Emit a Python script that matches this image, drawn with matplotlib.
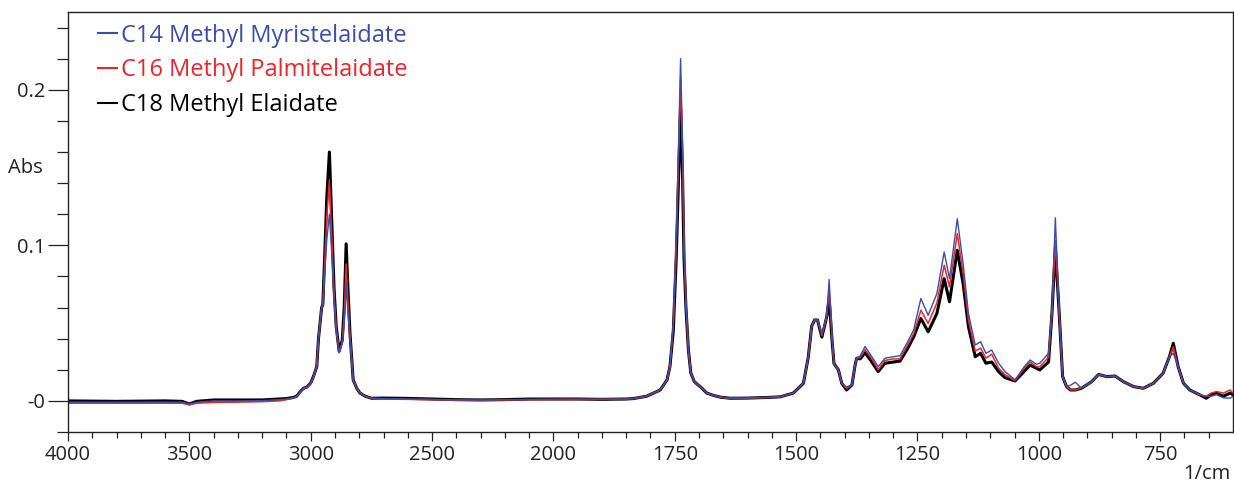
import numpy as np
import matplotlib
matplotlib.use("Agg")
import matplotlib.pyplot as plt

plt.rcParams['font.family'] = ['Open Sans', 'DejaVu Sans']

# wavenumber (1/cm), descending
wavenumber = [
    4000, 3800, 3600, 3530, 3500, 3470, 3400, 3300, 3200, 3130,
    3100, 3072, 3058, 3040, 3030, 3015, 3000, 2988, 2975, 2968,
    2955, 2950, 2942, 2934, 2923, 2913, 2904, 2895, 2883, 2870,
    2862, 2854, 2846, 2838, 2825, 2810, 2797, 2775, 2750, 2700,
    2600, 2500, 2400, 2300, 2200, 2100, 2000, 1950, 1900, 1850,
    1835, 1808, 1780, 1766, 1760, 1753, 1747, 1742, 1738, 1734,
    1731, 1727, 1722, 1717, 1710, 1703, 1697, 1684, 1670, 1656,
    1636, 1600, 1560, 1533, 1506, 1485, 1475, 1468, 1462, 1456,
    1447, 1437, 1432, 1426, 1422, 1413, 1406, 1396, 1385, 1378,
    1375, 1368, 1358, 1344, 1331, 1317, 1300, 1286, 1272, 1258,
    1243, 1228, 1210, 1195, 1184, 1168, 1156, 1145, 1131, 1120,
    1109, 1097, 1083, 1070, 1049, 1030, 1018, 1005, 998, 980,
    973, 966, 958, 951, 943, 935, 925, 912, 891, 877,
    860, 843, 826, 805, 785, 764, 744, 731, 723, 713,
    702, 689, 668, 655, 645, 634, 620, 606, 600,
]

c18_elaidate = [
    0.0000, -0.0003, 0.0000, -0.0003, -0.0020, -0.0003, 0.0006, 0.0006, 0.0006, 0.0012,
    0.0015, 0.0022, 0.0030, 0.0065, 0.0080, 0.0090, 0.0115, 0.016, 0.022, 0.040,
    0.060, 0.062, 0.095, 0.130, 0.160, 0.115, 0.073, 0.048, 0.032, 0.039,
    0.060, 0.101, 0.070, 0.043, 0.0135, 0.008, 0.005, 0.003, 0.0017, 0.0018,
    0.0016, 0.0012, 0.0008, 0.0006, 0.0008, 0.0012, 0.0012, 0.0012, 0.0010, 0.0012,
    0.0015, 0.003, 0.007, 0.0135, 0.022, 0.045, 0.092, 0.145, 0.188, 0.145,
    0.092, 0.060, 0.033, 0.018, 0.0125, 0.0105, 0.009, 0.005, 0.0035, 0.0024,
    0.0017, 0.0018, 0.0022, 0.0026, 0.005, 0.0113, 0.028, 0.048, 0.052, 0.052,
    0.041, 0.054, 0.066, 0.039, 0.024, 0.020, 0.0113, 0.007, 0.0103, 0.024,
    0.0275, 0.027, 0.031, 0.025, 0.0188, 0.0242, 0.025, 0.0256, 0.0327, 0.041,
    0.053, 0.0444, 0.0562, 0.0786, 0.0637, 0.0968, 0.0754, 0.0476, 0.0284, 0.0306,
    0.0242, 0.025, 0.0188, 0.0150, 0.0128, 0.019, 0.023, 0.021, 0.0199, 0.025,
    0.056, 0.099, 0.056, 0.0156, 0.0092, 0.007, 0.007, 0.0081, 0.0124, 0.017,
    0.0156, 0.016, 0.0124, 0.0092, 0.0081, 0.0113, 0.0178, 0.0284, 0.037, 0.022,
    0.0113, 0.007, 0.0038, 0.0017, 0.004, 0.005, 0.003, 0.005, 0.004,
]

c16_palmitelaidate = [
    -0.0015, -0.0015, -0.0015, -0.0015, -0.0025, -0.0015, -0.0010, -0.0008, -0.0005, 0.0000,
    0.0008, 0.0018, 0.0028, 0.0060, 0.0078, 0.0088, 0.011, 0.016, 0.022, 0.040,
    0.060, 0.062, 0.090, 0.118, 0.142, 0.105, 0.070, 0.047, 0.031, 0.038,
    0.055, 0.088, 0.063, 0.042, 0.0135, 0.008, 0.005, 0.003, 0.0017, 0.0012,
    0.0010, 0.0008, 0.0005, 0.0004, 0.0006, 0.0008, 0.0009, 0.0010, 0.0010, 0.0012,
    0.0015, 0.003, 0.007, 0.0135, 0.022, 0.048, 0.098, 0.158, 0.208, 0.158,
    0.098, 0.062, 0.033, 0.018, 0.0125, 0.0105, 0.009, 0.005, 0.0035, 0.0024,
    0.0017, 0.0018, 0.0022, 0.0026, 0.005, 0.0113, 0.028, 0.048, 0.052, 0.052,
    0.042, 0.054, 0.072, 0.040, 0.024, 0.020, 0.0113, 0.008, 0.0103, 0.024,
    0.0275, 0.028, 0.033, 0.027, 0.020, 0.026, 0.027, 0.027, 0.035, 0.043,
    0.0583, 0.0498, 0.063, 0.0872, 0.0733, 0.1075, 0.082, 0.052, 0.032, 0.034,
    0.0275, 0.030, 0.021, 0.017, 0.013, 0.021, 0.025, 0.022, 0.022, 0.028,
    0.056, 0.103, 0.056, 0.0156, 0.0092, 0.007, 0.007, 0.0081, 0.0124, 0.017,
    0.0156, 0.016, 0.0124, 0.0092, 0.0081, 0.0113, 0.0178, 0.0284, 0.0348, 0.022,
    0.0113, 0.007, 0.0038, 0.003, 0.005, 0.006, 0.005, 0.007, 0.005,
]

c14_myristelaidate = [
    -0.0008, -0.0008, -0.0008, -0.0008, -0.0020, -0.0008, 0.0000, 0.0000, 0.0002, 0.0008,
    0.0012, 0.0020, 0.0028, 0.0065, 0.0080, 0.0090, 0.0115, 0.016, 0.022, 0.040,
    0.060, 0.062, 0.082, 0.103, 0.120, 0.094, 0.066, 0.045, 0.031, 0.037,
    0.050, 0.074, 0.056, 0.040, 0.0135, 0.008, 0.005, 0.003, 0.0017, 0.0015,
    0.0012, 0.0010, 0.0006, 0.0005, 0.0007, 0.0010, 0.0010, 0.0010, 0.0010, 0.0012,
    0.0015, 0.003, 0.007, 0.0135, 0.022, 0.050, 0.103, 0.167, 0.220, 0.167,
    0.103, 0.065, 0.033, 0.018, 0.0125, 0.0105, 0.009, 0.005, 0.0035, 0.0024,
    0.0017, 0.0018, 0.0022, 0.0026, 0.005, 0.0113, 0.028, 0.048, 0.052, 0.052,
    0.043, 0.054, 0.078, 0.042, 0.024, 0.020, 0.0113, 0.009, 0.0103, 0.024,
    0.0275, 0.029, 0.035, 0.0284, 0.022, 0.0274, 0.0284, 0.029, 0.037, 0.0455,
    0.0658, 0.055, 0.069, 0.0957, 0.0786, 0.1171, 0.0883, 0.0562, 0.0359, 0.038,
    0.0306, 0.0327, 0.0242, 0.019, 0.0135, 0.022, 0.0263, 0.0235, 0.0242, 0.0306,
    0.056, 0.1177, 0.056, 0.0156, 0.0092, 0.010, 0.012, 0.0081, 0.0124, 0.017,
    0.0156, 0.016, 0.0124, 0.0092, 0.0081, 0.0113, 0.0178, 0.0284, 0.0306, 0.022,
    0.0113, 0.007, 0.0038, 0.003, 0.003, 0.004, 0.002, 0.0017, 0.003,
]

x_major = [4000, 3500, 3000, 2500, 2000, 1750, 1500, 1250, 1000, 750]
y_major = [0.0, 0.1, 0.2]
y_major_labels = ['-0', '0.1', '0.2']


# spectrometer-style axis: region below 2000 1/cm is expanded 2x
def forward(x):
    x = np.asarray(x, dtype=float)
    return np.where(x < 2000, 2 * x, x + 2000)


def inverse(u):
    u = np.asarray(u, dtype=float)
    return np.where(u < 4000, u / 2, u - 2000)


fig = plt.figure(figsize=(12.34, 4.84), dpi=100)
ax = fig.add_axes([68 / 1234, 52 / 484, 1165 / 1234, 420 / 484])
ax.set_xscale('function', functions=(forward, inverse))

ax.plot(wavenumber, c18_elaidate, color='black', lw=2.2, label='C18 Methyl Elaidate')
ax.plot(wavenumber, c16_palmitelaidate, color='#e8262b', lw=1.1, label='C16 Methyl Palmitelaidate')
ax.plot(wavenumber, c14_myristelaidate, color='#3a4ea8', lw=1.0, label='C14 Methyl Myristelaidate')

ax.set_xlim(4000, 600)
ax.set_ylim(-0.02, 0.25)

x_minor = [v for v in list(range(3900, 2000, -100)) + list(range(1950, 600, -50)) if v not in x_major]
ax.set_xticks(x_major)
ax.set_xticklabels([str(v) for v in x_major])
ax.set_xticks(x_minor, minor=True)

y_minor = [round(v, 2) for v in np.arange(-0.02, 0.245, 0.02) if round(v, 2) not in (0.0, 0.1, 0.2)]
ax.set_yticks(y_major)
ax.set_yticklabels(y_major_labels)
ax.set_yticks(y_minor, minor=True)

ax.tick_params(axis='both', which='both', direction='out', width=0.9, colors='#222222',
               labelsize=14.5, labelcolor='#222222')
ax.tick_params(axis='y', which='major', length=14.5, pad=2)
ax.tick_params(axis='y', which='minor', length=8)
ax.tick_params(axis='x', which='major', length=6.5, pad=3)
ax.tick_params(axis='x', which='minor', length=4.5)
for s in ax.spines.values():
    s.set_linewidth(1.0)
    s.set_color('#222222')

fig.text(25 / 1234, 1 - 168 / 484, 'Abs', ha='center', va='center', fontsize=14.5, color='#222222')
fig.text(1230 / 1234, 1 - 474 / 484, '1/cm', ha='right', va='center', fontsize=14.5, color='#222222')

handles, labels = ax.get_legend_handles_labels()
leg = ax.legend(handles[::-1], labels[::-1], loc='upper left', bbox_to_anchor=(0.026, 0.972),
                frameon=False, fontsize=17, handlelength=0.8, handletextpad=0.15,
                labelspacing=0.45, borderpad=0, borderaxespad=0, labelcolor='linecolor')
for line in leg.get_lines():
    line.set_linewidth(1.5)

fig.savefig('out.png', dpi=100)
